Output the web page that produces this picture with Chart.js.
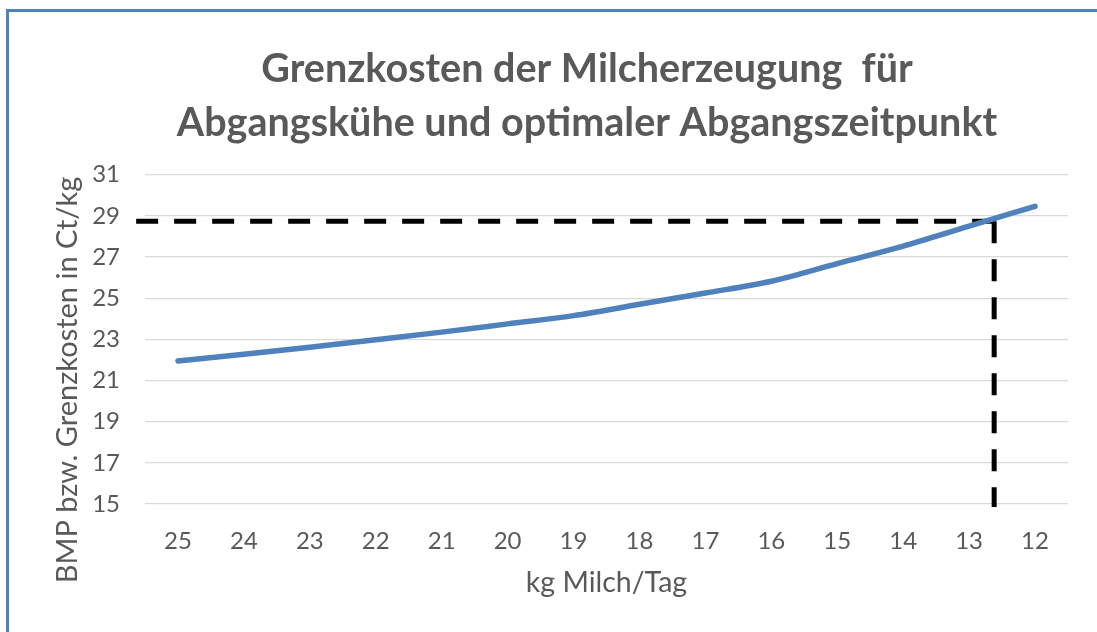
<!DOCTYPE html>
<html lang="de">
<head>
    <meta charset="UTF-8">
    <title>Grenzkosten der Milcherzeugung</title>
    <script src="https://cdn.jsdelivr.net/npm/chart.js"></script>
    <style>
        body { margin: 0; background: #fff; }
        .chart-box {
            position: relative;
            width: 1097px;
            height: 632px;
        }
        /* blue frame, only top and left edge are visible in the original */
        .frame {
            position: absolute;
            left: 6px;
            top: 9px;
            right: 0;
            bottom: 0;
            border-top: 3px solid #4F81BD;
            border-left: 3px solid #4F81BD;
            pointer-events: none;
        }
    </style>
</head>
<body>
    <div class="chart-box">
        <canvas id="costChart" width="1097" height="632"></canvas>
        <div class="frame"></div>
    </div>

    <script>
        // kg Milch/Tag (x axis, falling from left to right)
        const milkLabels = [25, 24, 23, 22, 21, 20, 19, 18, 17, 16, 15, 14, 13, 12];
        // Grenzkosten in Ct/kg
        const marginalCost = [21.95, 22.28, 22.62, 22.98, 23.35, 23.75, 24.15, 24.7, 25.25, 25.82, 26.68, 27.53, 28.5, 29.46];
        // milk price (BMP) and the resulting optimal culling point
        const milkPrice = 28.74;
        const optimalMilk = 12.62;
        const yTicks = [15, 17, 19, 21, 23, 25, 27, 29, 31];

        const titleLines = ["Grenzkosten der Milcherzeugung  für", "Abgangskühe und optimaler Abgangszeitpunkt"];
        const yTitle = "BMP bzw. Grenzkosten in Ct/kg";
        const textGray = "#595959";

        const costPoints = milkLabels.map((m, i) => ({ x: m, y: marginalCost[i] }));

        const dashStyle = {
            borderColor: "#000000",
            borderWidth: 5,
            borderDash: [22, 16],
            borderCapStyle: "butt",
            pointRadius: 0,
            tension: 0,
            clip: false
        };

        // y axis title: Excel centres it lower than the plot area, so draw it ourselves
        const yTitlePlugin = {
            id: "yTitle",
            afterDraw(chart) {
                const c = chart.ctx;
                c.save();
                c.translate(68, 380);
                c.rotate(-Math.PI / 2);
                c.font = "29px Lato";
                c.fillStyle = textGray;
                c.textAlign = "center";
                c.textBaseline = "middle";
                c.fillText(yTitle, 0, 0);
                c.restore();
            }
        };

        const ctx = document.getElementById("costChart").getContext("2d");

        const costChart = new Chart(ctx, {
            type: "line",
            data: {
                datasets: [
                    {
                        label: "Grenzkosten",
                        data: costPoints,
                        borderColor: "#4F81BD",
                        borderWidth: 5.5,
                        borderCapStyle: "round",
                        pointRadius: 0,
                        cubicInterpolationMode: "monotone"
                    },
                    // dashed guide lines, both start at the crossing point
                    Object.assign({ label: "BMP", data: [{ x: optimalMilk, y: milkPrice }, { x: 25.65, y: milkPrice }] }, dashStyle),
                    Object.assign({ label: "Abgang", data: [{ x: optimalMilk, y: milkPrice }, { x: optimalMilk, y: 14.85 }] }, dashStyle)
                ]
            },
            options: {
                responsive: false,
                animation: false,
                layout: { padding: { left: 77, right: 0, top: 0, bottom: 0 } },
                plugins: {
                    legend: { display: false },
                    tooltip: { enabled: false },
                    title: {
                        display: true,
                        text: titleLines,
                        color: textGray,
                        font: { family: "Lato", size: 39.5, weight: "bold", lineHeight: 1.35 },
                        padding: { top: 43, bottom: 25 }
                    }
                },
                scales: {
                    x: {
                        type: "linear",
                        reverse: true,
                        min: 11.5,
                        max: 25.5,
                        afterBuildTicks: (scale) => {
                            scale.ticks = milkLabels.map(v => ({ value: v }));
                        },
                        afterFit: (scale) => { scale.height = 128; },
                        grid: { display: false, drawTicks: false },
                        border: { display: false },
                        ticks: {
                            color: textGray,
                            font: { family: "Lato", size: 24 },
                            padding: 23,
                            maxRotation: 0,
                            autoSkip: false
                        },
                        title: {
                            display: true,
                            text: "kg Milch/Tag",
                            color: textGray,
                            font: { family: "Lato", size: 28.5 },
                            padding: { top: 0, bottom: 32 }
                        }
                    },
                    y: {
                        min: 15,
                        max: 31,
                        afterBuildTicks: (scale) => {
                            scale.ticks = yTicks.map(v => ({ value: v }));
                        },
                        afterFit: (scale) => { scale.width = 68; },
                        grid: { color: "#D9D9D9", lineWidth: 1.3, drawTicks: false },
                        border: { display: false },
                        ticks: {
                            color: textGray,
                            font: { family: "Lato", size: 24 },
                            padding: 25
                        }
                    },
                    // empty right axis, keeps the plot away from the right edge
                    yRight: {
                        position: "right",
                        afterFit: (scale) => { scale.width = 29; },
                        grid: { display: false, drawTicks: false },
                        border: { display: false },
                        ticks: { display: false }
                    }
                }
            },
            plugins: [yTitlePlugin]
        });
    </script>
</body>
</html>
